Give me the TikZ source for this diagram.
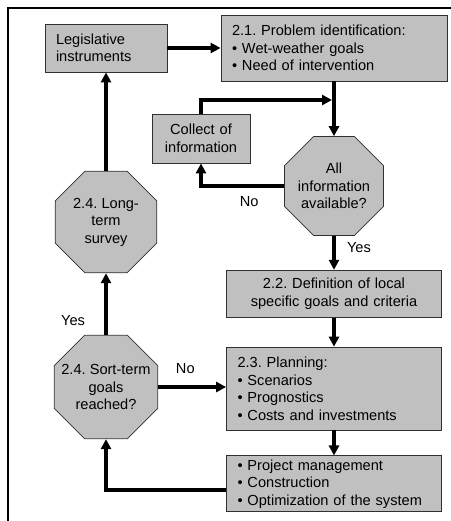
\documentclass[tikz,border=0pt]{standalone}
\usepackage{fontspec}
\setmainfont{Liberation Sans}
\usepackage{tikz}
\usetikzlibrary{shapes.geometric, arrows.meta, positioning}

\definecolor{boxgray}{HTML}{C0C0C0}
\definecolor{edgegray}{HTML}{303030}
\frenchspacing

\begin{document}
\begin{tikzpicture}[
  x=1pt, y=-1pt,
  font=\fontsize{14.6pt}{17.5pt}\selectfont,
  box/.style={rectangle, draw=edgegray, fill=boxgray, line width=0.8pt, inner xsep=11pt, inner ysep=0pt, align=left},
  oct/.style={regular polygon, regular polygon sides=8, draw=edgegray, fill=boxgray, line width=0.8pt, inner sep=0pt},
  octtext/.style={align=center, inner sep=0pt},
  arr/.style={-{Triangle[length=10pt, width=10pt]}, line width=4pt},
  lbl/.style={inner sep=2pt},
  frame/.style={line width=1.3pt},
]
\useasboundingbox (0,0) rectangle (450,521);

% === Frame (only top and left edges show) ===
\draw[frame] (456,8) -- (8,8) -- (8,527);

% === Right column: main steps ===
\node[box, text width=204pt, minimum height=66pt] (prob) at (334,48) {2.1. Problem identification:\\\textbullet\ Wet-weather goals\\\textbullet\ Need of intervention};
\node[oct, minimum size=107pt, label={[octtext]center:All\\information\\available?}] (info) at (334,186) {};
\node[box, align=center, text width=193pt, minimum height=47pt, below=34pt of info] (defn) {2.2. Definition of local\\specific goals and criteria};
\node[box, text width=193pt, minimum height=83pt, below=29pt of defn] (plan) {2.3. Planning:\\\textbullet\ Scenarios\\\textbullet\ Prognostics\\\textbullet\ Costs and investments};
\node[box, text width=193pt, minimum height=56pt, below=25pt of plan] (impl) {\textbullet\ Project management\\\textbullet\ Construction\\\textbullet\ Optimization of the system};

% === Information loop ===
\node[box, align=center, text width=76pt, minimum height=49pt] (coll) at (201,138.5) {Collect of\\information};
\coordinate (merge) at (332,100);

% === Left column: feedback ===
\node[box, text width=100pt, minimum height=48pt] (leg) at (106,48) {Legislative\\instruments};
\node[oct, minimum size=110pt, label={[octtext]center:2.4. Long-\\term\\survey}] (long) at (106,222) {};
\node[oct, minimum size=112pt, label={[octtext]center:2.4. Sort-term\\goals\\reached?}] (sort) at (106,387) {};

% === Arrows ===
\draw[arr] (leg) -- (prob);
\draw[arr] (prob) -- (info);
\draw[arr] (info.west) -| node[lbl, pos=0.21, below=6.5pt] {No} (coll.south);
\draw[arr] (coll.north) |- (merge);
\draw[arr] (info) -- node[lbl, pos=0.35, right=9pt] {Yes} (defn);
\draw[arr] (defn) -- (plan);
\draw[arr] (plan) -- (impl);

% back to the decision, then up or across
\draw[arr] ([yshift=-6pt]impl.west) -| (sort.south);
\draw[arr] (sort.east) -- node[lbl, pos=0.4, above=9pt] {No} (sort.east -| plan.west);
\draw[arr] (sort) -- node[lbl, pos=0.24, left=17pt] {Yes} (long);
\draw[arr] (long) -- (leg);
\end{tikzpicture}
\end{document}
